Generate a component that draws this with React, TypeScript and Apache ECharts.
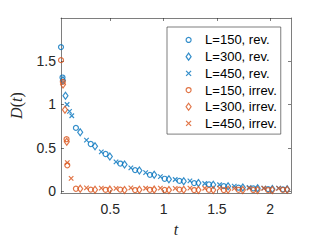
import React, { useEffect, useRef } from "react";
import * as echarts from "echarts";

// ---- data ----
const xTickValues = [0.5, 1, 1.5, 2];
const yTickValues = [0, 0.5, 1, 1.5];

const legendNames = [
  "L=150, rev.",
  "L=300, rev.",
  "L=450, rev.",
  "L=150, irrev.",
  "L=300, irrev.",
  "L=450, irrev.",
];

const groupTimesX = [0.277, 0.416, 0.554, 0.693, 0.832, 0.97, 1.109, 1.247, 1.386, 1.525, 1.663, 1.802, 1.94, 2.079];
const groupTimesO = [0.317, 0.456, 0.594, 0.733, 0.872, 1.01, 1.149, 1.287, 1.426, 1.565, 1.703, 1.842, 1.98, 2.119];
const groupTimesD = [0.357, 0.496, 0.634, 0.773, 0.912, 1.05, 1.189, 1.327, 1.466, 1.605, 1.743, 1.882, 2.02, 2.159];

const revL150T = [0.038, 0.052, 0.178, ...groupTimesO];
const revL150D = [1.66, 1.31, 0.73, 0.545, 0.43, 0.32, 0.245, 0.19, 0.145, 0.12, 0.095, 0.08, 0.06, 0.042, 0.035, 0.026, 0.023];

const revL300T = [0.056, 0.08, 0.218, ...groupTimesD];
const revL300D = [1.28, 1.1, 0.68, 0.52, 0.4, 0.31, 0.24, 0.19, 0.14, 0.115, 0.095, 0.075, 0.06, 0.045, 0.035, 0.028, 0.025];

const revL450T = [0.095, 0.118, 0.139, ...groupTimesX];
const revL450D = [1.0, 0.92, 0.87, 0.59, 0.455, 0.34, 0.27, 0.215, 0.17, 0.136, 0.12, 0.09, 0.076, 0.06, 0.045, 0.037, 0.037];

const irrevL150T = [0.038, 0.055, 0.09, 0.097, 0.178, ...groupTimesO];
const irrevL150D = [1.51, 1.26, 0.6, 0.3, 0.03, 0.02, 0.018, 0.02, 0.015, 0.018, 0.016, 0.02, 0.015, 0.017, 0.015, 0.018, 0.016, 0.015, 0.017];

const irrevL300T = [0.057, 0.075, 0.092, 0.218, ...groupTimesD];
const irrevL300D = [1.23, 0.94, 0.57, 0.03, 0.018, 0.02, 0.016, 0.018, 0.02, 0.016, 0.018, 0.017, 0.016, 0.018, 0.016, 0.017, 0.016, 0.018];

const irrevL450T = [0.097, 0.133, ...groupTimesX];
const irrevL450D = [0.33, 0.15, 0.04, 0.038, 0.035, 0.04, 0.036, 0.038, 0.035, 0.037, 0.036, 0.038, 0.035, 0.037, 0.036, 0.035];

// ---- styles ----
const BLUE = "#0072BD";
const ORANGE = "#D95319";
const AXIS_COLOR = "#262626";
const CROSS = "path://M0,0L10,10M10,0L0,10";

function pairs(t: number[], d: number[]) {
  return t.map((v, i) => [v, d[i]]);
}

export default function App() {
  const ref = useRef<HTMLDivElement>(null);

  useEffect(() => {
    if (!ref.current) return;
    const chart = echarts.init(ref.current, undefined, { renderer: "svg" });

    const axisLine = { show: true, onZero: false, lineStyle: { color: AXIS_COLOR, width: 0.6 } };
    const labelStyle = { fontFamily: "Liberation Sans", fontSize: 14, color: AXIS_COLOR };
    const tick = (vals: number[]) => ({
      show: true,
      inside: true,
      length: 3,
      customValues: vals,
      lineStyle: { color: AXIS_COLOR, width: 0.6 },
    });

    const mk = (name: string, t: number[], d: number[], color: string, symbol: string, size: any) => ({
      type: "scatter",
      name,
      data: pairs(t, d),
      symbol,
      symbolSize: size,
      clip: false,
      itemStyle: { color: "rgba(0,0,0,0)", borderColor: color, borderWidth: 1.2 },
    });

    chart.setOption({
      animation: false,
      grid: { left: 48, top: 18, right: 31, bottom: 46, containLabel: false },
      xAxis: [
        {
          type: "value",
          min: 0.038,
          max: 2.195,
          position: "bottom",
          axisLine,
          axisTick: tick(xTickValues),
          axisLabel: { ...labelStyle, margin: 9, customValues: xTickValues },
          splitLine: { show: false },
          name: "t",
          nameLocation: "middle",
          nameGap: 24,
          nameTextStyle: { fontFamily: "Liberation Serif", fontStyle: "italic", fontSize: 16, color: AXIS_COLOR },
        },
        {
          type: "value",
          min: 0.038,
          max: 2.195,
          position: "top",
          axisLine,
          axisTick: tick(xTickValues),
          axisLabel: { show: false },
          splitLine: { show: false },
        },
      ],
      yAxis: [
        {
          type: "value",
          min: -0.02,
          max: 1.995,
          position: "left",
          axisLine,
          axisTick: tick(yTickValues),
          axisLabel: { ...labelStyle, margin: 5, customValues: yTickValues },
          splitLine: { show: false },
          name: "{i|D}{n|(}{i|t}{n|)}",
          nameLocation: "middle",
          nameGap: 37,
          nameRotate: 90,
          nameTextStyle: {
            color: AXIS_COLOR,
            rich: {
              i: { fontFamily: "Liberation Serif", fontStyle: "italic", fontSize: 16, color: AXIS_COLOR },
              n: { fontFamily: "Liberation Serif", fontSize: 16, color: AXIS_COLOR },
            },
          },
        },
        {
          type: "value",
          min: -0.02,
          max: 1.995,
          position: "right",
          axisLine,
          axisTick: tick(yTickValues),
          axisLabel: { show: false },
          splitLine: { show: false },
        },
      ],
      legend: {
        orient: "vertical",
        left: 167,
        top: 27,
        padding: [4.6, 4, 2.3, 18.5],
        itemWidth: 5,
        itemHeight: 7,
        itemGap: 0,
        backgroundColor: "#fff",
        borderColor: AXIS_COLOR,
        borderWidth: 0.6,
        itemStyle: { borderWidth: 1.2 },
        textStyle: { fontFamily: "Liberation Sans", fontSize: 13, color: "#000", lineHeight: 16.7, padding: [0, 0, 0, 9] },
        data: legendNames,
      },
      series: [
        mk(legendNames[0], revL150T, revL150D, BLUE, "circle", 5),
        mk(legendNames[1], revL300T, revL300D, BLUE, "diamond", [5, 7]),
        mk(legendNames[2], revL450T, revL450D, BLUE, CROSS, 4.5),
        mk(legendNames[3], irrevL150T, irrevL150D, ORANGE, "circle", 5),
        mk(legendNames[4], irrevL300T, irrevL300D, ORANGE, "diamond", [5, 7]),
        mk(legendNames[5], irrevL450T, irrevL450D, ORANGE, CROSS, 4.5),
      ],
    });

    return () => chart.dispose();
  }, []);

  return <div ref={ref} style={{ width: 322, height: 242, position: "absolute", left: 0, top: 0 }} />;
}
